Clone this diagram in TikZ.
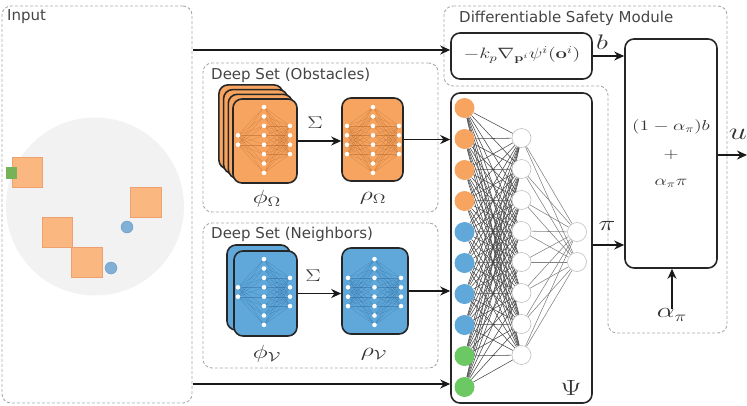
\RequirePackage{fix-cm}
\documentclass[tikz,border=0pt]{standalone}
\usepackage[no-math]{fontspec}
\newfontfamily\lblfont{DejaVu Sans}
\usepackage{amsmath}
\usetikzlibrary{arrows.meta,fit}
\definecolor{org}{RGB}{246,164,95}
\definecolor{orgd}{RGB}{160,85,30}
\definecolor{blu}{RGB}{96,168,218}
\definecolor{blud}{RGB}{25,80,130}
\definecolor{grn}{RGB}{108,200,98}
\definecolor{sqorg}{RGB}{250,183,128}
\definecolor{sqedge}{RGB}{240,160,110}
\definecolor{dotblu}{RGB}{128,176,214}
\definecolor{dotedge}{RGB}{110,150,190}
\definecolor{sqgrn}{RGB}{118,178,88}
\definecolor{dgray}{RGB}{170,170,170}
\definecolor{txtgray}{RGB}{68,68,68}
\definecolor{circgray}{RGB}{242,242,242}
\newcommand{\mth}[2]{\scalebox{1.35}[1]{\fontsize{#1}{#1}\selectfont$#2$}}
\pgfdeclarelayer{bg}
\pgfsetlayers{bg,main}
% cx, cy, nl, nr, linestyle, dx
\newcommand{\minnet}[6]{%
 \foreach \i in {1,...,#3}{\foreach \j in {1,...,8}{
   \draw[#5] ({#1-#6},{#2+(\i-(#3+1)/2)*9.4}) -- ({#1},{#2+(\j-4.5)*9.4});}}
 \foreach \i in {1,...,#4}{\foreach \j in {1,...,8}{
   \draw[#5] ({#1+#6},{#2+(\i-(#4+1)/2)*9.4}) -- ({#1},{#2+(\j-4.5)*9.4});}}
 \foreach \j in {1,...,8}{\fill[white] ({#1},{#2+(\j-4.5)*9.4}) circle (2.3pt);}
 \foreach \i in {1,...,#3}{\fill[white] ({#1-#6},{#2+(\i-(#3+1)/2)*9.4}) circle (2.3pt);}
 \foreach \i in {1,...,#4}{\fill[white] ({#1+#6},{#2+(\i-(#4+1)/2)*9.4}) circle (2.3pt);}
}
\begin{document}
\begin{tikzpicture}[x=1pt,y=-1pt,
  dbox/.style={draw=dgray, line width=0.9pt, dash pattern=on 3pt off 2pt, rounded corners=9pt},
  blk/.style={draw=black!85, line width=1.6pt, rounded corners=9pt, inner sep=0pt},
  arr/.style={-{Stealth[length=10pt,width=9pt]}, line width=1.6pt, draw=black!90},
  lbl/.style={font=\lblfont\fontsize{15}{17}\selectfont, text=txtgray, inner sep=0pt},
  inn/.style={circle, minimum size=20pt, inner sep=0pt},
  hid/.style={circle, minimum size=19pt, inner sep=0pt, fill=white, draw=black!25, line width=0.6pt},
  e1/.style={black!72, line width=0.55pt},
  e2/.style={black!50, line width=0.55pt},
  onet/.style={orgd, opacity=0.4, line width=0.25pt},
  bnet/.style={blud, opacity=0.35, line width=0.25pt},
  mlbl/.style={inner sep=0pt, text=black!80}
]
\useasboundingbox (0,0) rectangle (747,405);

% ---------- Input ----------
\node[dbox, fit={(2,6)(192,403)}, inner sep=0pt] (inp) {};
\node[lbl, anchor=west] (tIn) at (7,17) {Input};
\fill[circgray] (95,206.5) circle (89pt);
\filldraw[fill=sqorg, draw=sqedge, line width=0.4pt] (12,157) rectangle (42,187);
\filldraw[fill=sqorg, draw=sqedge, line width=0.4pt] (130,187) rectangle (161,217);
\filldraw[fill=sqorg, draw=sqedge, line width=0.4pt] (42,217) rectangle (72,247);
\filldraw[fill=sqorg, draw=sqedge, line width=0.4pt] (71,247) rectangle (102,277);
\fill[sqgrn] (6,167) rectangle (17,179);
\filldraw[fill=dotblu, draw=dotedge, line width=0.4pt] (127,227) circle (6pt);
\filldraw[fill=dotblu, draw=dotedge, line width=0.4pt] (111,268) circle (6pt);

% ---------- Deep Set (Obstacles) ----------
\node[dbox, fit={(203,63)(438,212)}, inner sep=0pt] (dsO) {};
\node[lbl, anchor=west] (tObs) at (211,75) {Deep Set (Obstacles)};
\foreach \k in {3,2,1}{
  \node[blk, fill=org, fit={({233-4.7*\k},{99-4.7*\k})({297-4.7*\k},{183-4.7*\k})}] (phiO\k) {};
}
\node[blk, fill=org, fit={(233,99)(297,183)}] (phiO) {};
\minnet{264}{140}{2}{4}{onet}{26}
\node[blk, fill=org, fit={(342,98)(403,181)}] (rhoO) {};
\minnet{373}{140}{4}{4}{onet}{26}
\node[mlbl] (lphiO) at (267,199) {\mth{19}{\phi_\Omega}};
\node[mlbl] (lrhoO) at (373,198) {\mth{19}{\rho_\Omega}};
\node[mlbl] (sigO) at (315,123) {\mth{17}{\Sigma}};

% ---------- Deep Set (Neighbors) ----------
\node[dbox, fit={(203,223)(438,368)}, inner sep=0pt] (dsV) {};
\node[lbl, anchor=west] (tNb) at (211,234) {Deep Set (Neighbors)};
\node[blk, fill=blu, fit={(227,245)(290,330)}] (phiV1) {};
\node[blk, fill=blu, fit={(234,251)(297,336)}] (phiV) {};
\minnet{264}{292}{2}{4}{bnet}{26}
\node[blk, fill=blu, fit={(342,248)(408,334)}] (rhoV) {};
\minnet{374.5}{292}{4}{4}{bnet}{26.5}
\node[mlbl] (lphiV) at (267,354) {\mth{19}{\phi_{\mathcal{V}}}};
\node[mlbl] (lrhoV) at (374,354) {\mth{19}{\rho_{\mathcal{V}}}};
\node[mlbl] (sigV) at (313,276) {\mth{17}{\Sigma}};

% ---------- Differentiable Safety Module ----------
\draw[dbox] (444,6) -- (727,6) -- (727,333) -- (608,333) -- (608,86) -- (444,86) -- cycle;
\node[lbl, anchor=west] (tDSM) at (459,18) {Differentiable Safety Module};
\node[blk, fit={(451,33)(592,79)}] (kb) {};
\node[mlbl] (kbt) at (522,55) {\mth{15}{-k_p\nabla_{\mathbf{p}^i}\psi^i(\mathbf{o}^i)}};
\node[blk, fit={(625,39)(717,268)}] (big) {};
\node[mlbl] (bt1) at (671,127) {\mth{14.5}{(1-\alpha_\pi)b}};
\node[mlbl] (bt2) at (671,155) {\mth{14.5}{+}};
\node[mlbl] (bt3) at (671,183) {\mth{14.5}{\alpha_\pi\pi}};
\node[mlbl] (lb) at (602,42) {\mth{21}{b}};
\node[mlbl] (lpi) at (607,226) {\mth{21}{\pi}};
\node[mlbl] (lu) at (738,134) {\mth{24}{u}};
\node[mlbl] (lal) at (672,315) {\mth{21}{\alpha_\pi}};

% ---------- Psi network ----------
\node[blk, fit={(451,93)(592,403)}] (psi) {};
\foreach \i/\c in {1/org,2/org,3/org,4/org,5/blu,6/blu,7/blu,8/blu,9/grn,10/grn}{
  \node[inn, fill=\c] (x\i) at (464.5,{108+31*(\i-1)}) {};
}
\foreach \j in {1,...,8}{
  \node[hid] (h\j) at (521.5,{138+31*(\j-1)}) {};
}
\node[hid] (o1) at (577,232) {};
\node[hid] (o2) at (577,262) {};
\begin{pgfonlayer}{bg}
\foreach \i in {1,...,10}{\foreach \j in {1,...,8}{\draw[e1] (x\i) -- (h\j);}}
\foreach \j in {1,...,8}{\foreach \k in {1,2}{\draw[e2] (h\j) -- (o\k);}}
\end{pgfonlayer}
\node[mlbl] (lpsi) at (571,388) {\mth{22}{\Psi}};

% ---------- connectors ----------
\coordinate (tA) at (193,50);
\coordinate (bA) at (193,384);
\coordinate (piy) at (600,245);
\coordinate (uE) at (747,155);
\draw[arr] (tA) -- (tA -| kb.west);
\draw[arr] (bA) -- (bA -| psi.west);
\draw[arr] (phiO.east) -- (phiO.east -| rhoO.west);
\draw[arr] (rhoO.east) -- (rhoO.east -| psi.west);
\draw[arr] (phiV.east) -- (phiV.east -| rhoV.west);
\draw[arr] (rhoV.east) -- (rhoV.east -| psi.west);
\draw[arr] (kb.east) -- (kb.east -| big.west);
\draw[arr] (psi.east |- piy) -- (big.west |- piy);
\draw[arr] (big.east |- uE) -- (uE);
\draw[arr] (lal.north) -- (lal.north |- big.south);
\end{tikzpicture}
\end{document}
